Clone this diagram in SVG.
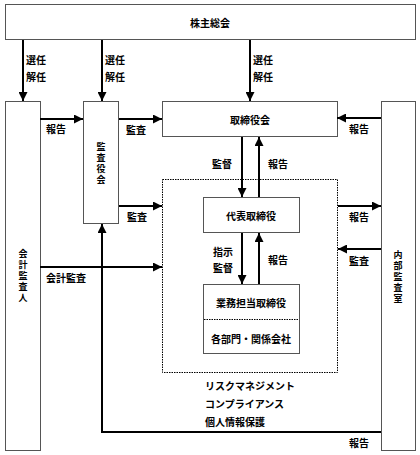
<svg xmlns="http://www.w3.org/2000/svg" width="420" height="455" viewBox="0 0 420 455">
<style>
text{font-family:"Noto Sans CJK JP","Noto Sans CJK SC",sans-serif;font-size:10px;font-weight:bold;fill:#000}
.c{text-anchor:middle;dominant-baseline:central}
.v{writing-mode:vertical-rl;text-anchor:middle;font-size:9px;letter-spacing:2px}
.l{dominant-baseline:central}
.box{fill:#fff;stroke:#555;stroke-width:1}
.dot{fill:none;stroke:#000;stroke-width:1;stroke-dasharray:1.5 1}
.ln{fill:none;stroke:#000;stroke-width:2}
.ar{marker-end:url(#ah)}
</style>
<defs>
<marker id="ah" markerUnits="userSpaceOnUse" markerWidth="9" markerHeight="9" refX="9" refY="4.5" orient="auto">
<path d="M0,0 L9,4.5 L0,9 z" fill="#000"/>
</marker>
</defs>
<rect width="420" height="455" fill="#fff"/>
<g id="n-dotted"><rect class="dot" x="162.5" y="179.5" width="175" height="193"/></g>
<g id="n-kabunushi"><rect class="box" x="5.5" y="4.5" width="410" height="35"/><text class="c" x="210" y="22">株主総会</text></g>
<g id="n-kaikei"><rect class="box" x="5.5" y="101.5" width="35" height="349"/>
<text class="v" x="23" y="277">会計監査人</text></g>
<g id="n-kansayaku"><rect class="box" x="83.5" y="101.5" width="35" height="122"/>
<text class="v" x="101" y="164">監査役会</text></g>
<g id="n-torishimariyakukai"><rect class="box" x="162.5" y="101.5" width="175" height="35"/><text class="c" x="250" y="119">取締役会</text></g>
<g id="n-naibu"><rect class="box" x="381.5" y="101.5" width="34" height="349"/>
<text class="v" x="398" y="278">内部監査室</text></g>
<g id="n-daihyo"><rect class="box" x="203.5" y="197.5" width="96" height="35"/><text class="c" x="251" y="215">代表取締役</text></g>
<g id="n-gyomu"><rect class="box" x="203.5" y="284.5" width="96" height="69"/>
<line class="dot" x1="204" y1="319.5" x2="299" y2="319.5"/>
<text class="c" x="251" y="302">業務担当取締役</text><text class="c" x="251" y="338">各部門・関係会社</text></g>
<g id="connectors">
<line class="ln ar" x1="23" y1="40" x2="23" y2="101"/>
<line class="ln ar" x1="102" y1="40" x2="102" y2="101"/>
<line class="ln ar" x1="250" y1="40" x2="250" y2="101"/>
<line class="ln ar" x1="40" y1="119" x2="83" y2="119"/>
<line class="ln ar" x1="119" y1="119" x2="162" y2="119"/>
<line class="ln ar" x1="119" y1="206" x2="162" y2="206"/>
<line class="ln ar" x1="381" y1="118" x2="337" y2="118"/>
<line class="ln ar" x1="338" y1="206" x2="381" y2="206"/>
<line class="ln ar" x1="381" y1="249" x2="338" y2="249"/>
<line class="ln ar" x1="242" y1="137" x2="242" y2="197"/>
<line class="ln ar" x1="259" y1="197" x2="259" y2="137"/>
<line class="ln ar" x1="242" y1="233" x2="242" y2="284"/>
<line class="ln ar" x1="259" y1="284" x2="259" y2="233"/>
<line class="ln ar" x1="40" y1="267" x2="162" y2="267"/>
<polyline class="ln ar" points="381,432 102,432 102,224"/>
</g>
<g id="labels">
<text class="l" x="26" y="59">選任</text><text class="l" x="26" y="76">解任</text>
<text class="l" x="105" y="59">選任</text><text class="l" x="105" y="76">解任</text>
<text class="l" x="253" y="59">選任</text><text class="l" x="253" y="76">解任</text>
<text class="l" x="46" y="128">報告</text>
<text class="l" x="126" y="129">監査</text>
<text class="l" x="127" y="216">監査</text>
<text class="l" x="349" y="128">報告</text>
<text class="l" x="349" y="216">報告</text>
<text class="l" x="349" y="260">監査</text>
<text class="l" x="212" y="163">監督</text>
<text class="l" x="268" y="163">報告</text>
<text class="l" x="213" y="251">指示</text>
<text class="l" x="213" y="267">監督</text>
<text class="l" x="268" y="259">報告</text>
<text class="l" x="46" y="277">会計監査</text>
<text class="l" x="205" y="385">リスクマネジメント</text>
<text class="l" x="205" y="403">コンプライアンス</text>
<text class="l" x="205" y="421">個人情報保護</text>
<text class="l" x="349" y="442">報告</text>
</g>
</svg>
